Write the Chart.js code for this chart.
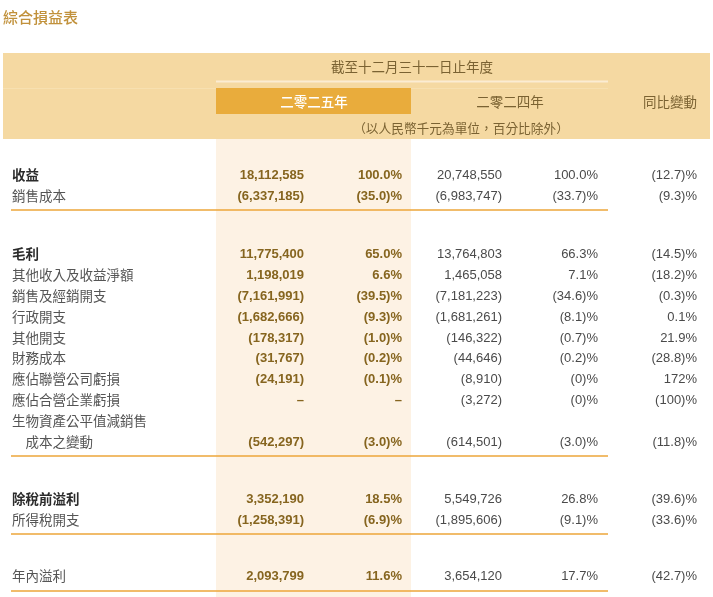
<!DOCTYPE html>
<html>
<head>
<meta charset="utf-8">
<script src="https://cdn.jsdelivr.net/npm/chart.js@4"></script>
<style>
  html, body { margin: 0; padding: 0; background: #fff; }
  #wrap { width: 713px; height: 597px; position: relative; }
</style>
</head>
<body>
<div id="wrap"><canvas id="incomeChart"></canvas></div>
<script>
// 表頭文字
const tableTitle = '綜合損益表';
const periodTitle = '截至十二月三十一日止年度';
const yearLabels = ['二零二五年', '二零二四年'];
const changeTitle = '同比變動';
const unitNote = '（以人民幣千元為單位，百分比除外）';

// 數據（null = 「–」，'' = 空白）
const rowLabels = ['收益', '銷售成本', '毛利', '其他收入及收益淨額', '銷售及經銷開支', '行政開支',
  '其他開支', '財務成本', '應佔聯營公司虧損', '應佔合營企業虧損', '生物資產公平值減銷售',
  '\u3000成本之變動', '除稅前溢利', '所得稅開支', '年內溢利'];
const amount2025 = [18112585, -6337185, 11775400, 1198019, -7161991, -1682666, -178317, -31767,
  -24191, null, '', -542297, 3352190, -1258391, 2093799];
const pct2025 = ['100.0', '-35.0', '65.0', '6.6', '-39.5', '-9.3', '-1.0', '-0.2', '-0.1', null, '',
  '-3.0', '18.5', '-6.9', '11.6'];
const amount2024 = [20748550, -6983747, 13764803, 1465058, -7181223, -1681261, -146322, -44646,
  -8910, -3272, '', -614501, 5549726, -1895606, 3654120];
const pct2024 = ['100.0', '-33.7', '66.3', '7.1', '-34.6', '-8.1', '-0.7', '-0.2', '-0', '-0', '',
  '-3.0', '26.8', '-9.1', '17.7'];
const yoyChange = ['-12.7', '-9.3', '-14.5', '-18.2', '-0.3', '0.1', '21.9', '-28.8', '172', '-100', '',
  '-11.8', '-39.6', '-33.6', '-42.7'];
const boldRows = ['收益', '毛利', '除稅前溢利'];

// 版面（以像素為單位的座標軸）
const rowY = [175, 196, 254, 275, 296, 317, 338, 358, 379, 400, 421, 442, 499, 520, 576];
const ruleY = [210, 456, 534, 591];
const colRight = { a25: 304, p25: 402, a24: 502, p24: 598, chg: 697 };

const cjk = '"Noto Sans CJK TC", "Noto Sans CJK SC", sans-serif';
const num = '"Liberation Sans", Arial, sans-serif';
const headColor = '#7a6232';

function fmtAmount(v) {
  if (v === '') return '';
  if (v === null) return '–';
  const s = Math.abs(v).toLocaleString('en-US');
  return v < 0 ? '(' + s + ')' : s;
}

function fmtPct(v) {
  if (v === '') return '';
  if (v === null) return '–';
  return v.startsWith('-') ? '(' + v.slice(1) + ')%' : v + '%';
}

// 背景色塊（表頭、二零二五年欄）
const backgroundPlugin = {
  id: 'tableBackground',
  beforeDatasetsDraw(chart) {
    const { ctx, scales: { x, y } } = chart;
    const rect = (x0, y0, x1, y1, color) => {
      ctx.fillStyle = color;
      ctx.fillRect(x.getPixelForValue(x0), y.getPixelForValue(y0),
        x.getPixelForValue(x1) - x.getPixelForValue(x0), y.getPixelForValue(y1) - y.getPixelForValue(y0));
    };
    ctx.save();
    rect(3, 53, 710, 139, '#f5d9a2');
    rect(3, 88, 608, 89, '#f7e0b0');
    rect(216, 80.5, 608, 82.5, '#fbecd2');
    rect(216, 88, 411, 114, '#e9ac3c');
    rect(216, 139, 411, 597, '#fdf2e4');
    ctx.restore();
  }
};

// 文字
const textPlugin = {
  id: 'tableText',
  afterDatasetsDraw(chart) {
    const { ctx, scales: { x, y } } = chart;
    const put = (text, xv, yv, align, font, color) => {
      ctx.font = font;
      ctx.fillStyle = color;
      ctx.textAlign = align;
      ctx.textBaseline = 'middle';
      ctx.fillText(text, x.getPixelForValue(xv), y.getPixelForValue(yv));
    };
    ctx.save();
    put(tableTitle, 3, 17, 'left', '500 15px ' + cjk, '#c1913b');
    put(periodTitle, 412, 67, 'center', '400 13.5px ' + cjk, headColor);
    put(yearLabels[0], 314, 102, 'center', '500 13.5px ' + cjk, '#ffffff');
    put(yearLabels[1], 510, 102, 'center', '400 13.5px ' + cjk, headColor);
    put(changeTitle, 697, 102, 'right', '400 13.5px ' + cjk, headColor);
    put(unitNote, 461, 128, 'center', '400 12.7px ' + cjk, headColor);

    rowLabels.forEach((label, i) => {
      const bold = boldRows.includes(label);
      const yv = rowY[i];
      put(label, 12, yv, 'left', (bold ? '700 ' : '400 ') + '13.5px ' + cjk, bold ? '#2b2b2b' : '#555555');
      put(fmtAmount(amount2025[i]), colRight.a25, yv, 'right', 'bold 13px ' + num, '#86651f');
      put(fmtPct(pct2025[i]), colRight.p25, yv, 'right', 'bold 13px ' + num, '#86651f');
      put(fmtAmount(amount2024[i]), colRight.a24, yv, 'right', '13px ' + num, '#4a4a4a');
      put(fmtPct(pct2024[i]), colRight.p24, yv, 'right', '13px ' + num, '#4a4a4a');
      put(fmtPct(yoyChange[i]), colRight.chg, yv, 'right', '13px ' + num, '#4a4a4a');
    });
    ctx.restore();
  }
};

// 分隔線作為折線資料集
const ruleSets = ruleY.map(yv => ({
  type: 'line',
  data: [{ x: 11, y: yv }, { x: 608, y: yv }],
  borderColor: '#eca63a',
  borderWidth: 1.5,
  pointRadius: 0,
  fill: false
}));

new Chart(document.getElementById('incomeChart'), {
  type: 'line',
  data: { datasets: ruleSets },
  options: {
    responsive: true,
    maintainAspectRatio: false,
    animation: false,
    layout: { padding: 0 },
    scales: {
      x: { type: 'linear', min: 0, max: 713, display: false },
      y: { type: 'linear', min: 0, max: 597, reverse: true, display: false }
    },
    plugins: {
      legend: { display: false },
      tooltip: { enabled: false }
    }
  },
  plugins: [backgroundPlugin, textPlugin]
});
</script>
</body>
</html>
